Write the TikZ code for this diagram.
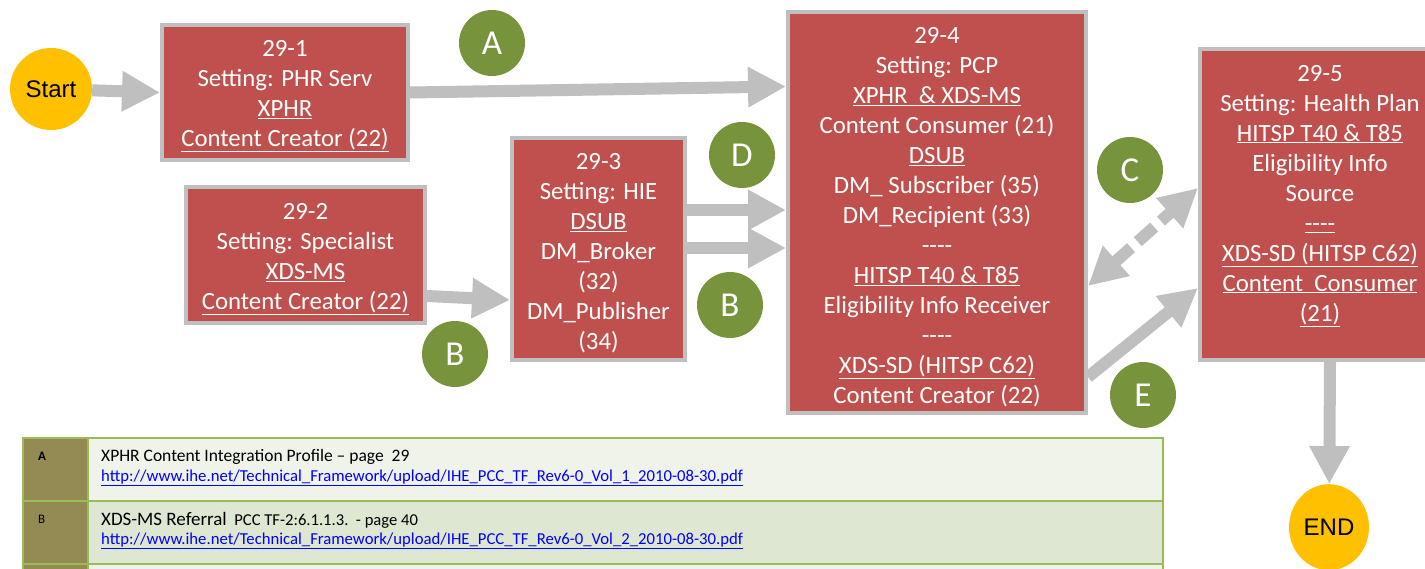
\documentclass[tikz,border=0pt]{standalone}
\usepackage{fontspec}
\setmainfont{Carlito}
\newfontfamily\arialfont{Liberation Sans}
\usetikzlibrary{arrows.meta,positioning,shapes.geometric}

\definecolor{boxred}{HTML}{C0504D}
\definecolor{boxgray}{HTML}{BFBFBF}
\definecolor{tagGreen}{HTML}{77933C}
\definecolor{gold}{HTML}{FFC000}
\definecolor{olive}{HTML}{948A54}
\definecolor{rowlight}{HTML}{EFF3EA}
\definecolor{rowdark}{HTML}{DEE7D1}
\definecolor{gridgreen}{HTML}{9BBB59}
\definecolor{linkblue}{HTML}{0000FF}

\tikzset{
  setting/.style={draw=boxgray, line width=4pt, fill=boxred, text=white,
    align=center, inner sep=0pt, font=\fontsize{24.8}{30}\selectfont},
  tag/.style={circle, fill=tagGreen, text=white, minimum size=66pt,
    inner sep=0pt, font=\fontsize{35}{35}\selectfont},
  terminal/.style={ellipse, fill=gold, inner sep=0pt,
    font=\arialfont\fontsize{24}{24}\selectfont},
  flow/.style={draw=boxgray, line width=12pt,
    -{Triangle[length=38pt,width=38pt]}},
  flowboth/.style={flow, {Triangle[length=38pt,width=38pt]}-{Triangle[length=38pt,width=38pt]},
    dash pattern=on 22pt off 9pt},
  cell/.style={draw=gridgreen, line width=2pt, anchor=north west, inner sep=0pt},
  note/.style={anchor=base west, inner sep=0pt},
}
\newcommand{\weblink}[1]{\textcolor{linkblue}{\underline{#1}}}
\newcommand{\dashes}{-{}-{}-{}-}
\newcommand{\toppad}[1]{\rule{0pt}{#1}}

\begin{document}
\begin{tikzpicture}[x=1pt, y=-1pt]
  \useasboundingbox (0,0) rectangle (1425,568);

  % Define nodes
  \node[terminal, minimum width=82pt, minimum height=82pt] (start) at (51,89) {Start};
  \node[setting, minimum width=246pt, minimum height=135pt] (p1) at (285,92.5)
    {\toppad{24pt}29-1\\Setting: PHR Serv\\\underline{XPHR}\\\underline{Content Creator (22)}};
  \node[setting, minimum width=239pt, minimum height=136pt] (p2) at (305.5,255)
    {\toppad{24pt}29-2\\Setting: Specialist\\\underline{XDS-MS}\\\underline{Content Creator (22)}};
  \node[setting, minimum width=173pt, minimum height=222pt] (p3) at (598.5,249)
    {\toppad{24pt}29-3\\Setting: HIE\\\underline{DSUB}\\DM\_Broker\\(32)\\DM\_Publisher\\(34)};
  \node[setting, minimum width=298pt, minimum height=401pt] (p4) at (937,212.5)
    {\toppad{26pt}29-4\\Setting: PCP\\\underline{XPHR \ \& XDS-MS}\\Content Consumer (21)\\\underline{DSUB}\\
     DM\_ Subscriber (35)\\DM\_Recipient (33)\\\dashes\\\underline{HITSP T40 \& T85}\\
     Eligibility Info Receiver\\\dashes\\\underline{XDS-SD (HITSP C62)}\\Content Creator (22)};
  \node[setting, minimum width=240pt, minimum height=311pt] (p5) at (1320,204.5)
    {29-5\\Setting: Health Plan\\\underline{HITSP T40 \& T85}\\Eligibility Info\\Source\\
     \underline{\dashes}\\\underline{XDS-SD (HITSP C62)}\\\underline{Content \ Consumer}\\
     \underline{(21)}\\[-7pt]\mbox{}};
  \node[terminal, minimum width=80pt, minimum height=86pt, below=122pt of p5, xshift=9pt] (stop) {END};

  \node[tag] (tagA) at (492,43) {A};
  \node[tag] (tagD) at (742,155) {D};
  \node[tag] (tagB2) at (730,305) {B};
  \node[tag] (tagB1) at (455,354) {B};
  \node[tag] (tagC) at (1130,170) {C};
  \node[tag] (tagE) at (1143,395) {E};

  % Connect the nodes
  \draw[flow] (start) -- (p1.west);
  \draw[flow] (p1.east) -- ([yshift=126pt]p4.west);
  \draw[flow] ([yshift=-41pt]p2.east) -- ([yshift=-51pt]p3.west);
  \draw[flow] ([yshift=39pt]p3.east) -- ([yshift=39pt]p3.east -| p4.west);
  \draw[flow] ([yshift=1pt]p3.east) -- ([yshift=1pt]p3.east -| p4.west);
  \draw[flowboth] ([yshift=-73.5pt]p4.east) -- ([yshift=16.5pt]p5.west);
  \draw[flow] ([yshift=-164.5pt]p4.east) -- ([yshift=-83.5pt]p5.west);
  \draw[flow] ([xshift=10pt]p5.south) -- (stop);

  % Reference table
  \node[cell, fill=olive, minimum width=65pt, minimum height=63pt] (keyA) at (22,437) {};
  \node[cell, fill=rowlight, minimum width=1075pt, minimum height=63pt] (rowA) at (87,437) {};
  \node[cell, fill=olive, minimum width=65pt, minimum height=63pt] (keyB) at (22,500) {};
  \node[cell, fill=rowdark, minimum width=1075pt, minimum height=63pt] (rowB) at (87,500) {};
  \node[cell, fill=olive, minimum width=65pt, minimum height=30pt] (keyC) at (22,563) {};
  \node[cell, fill=rowlight, minimum width=1075pt, minimum height=30pt] (rowC) at (87,563) {};

  \node[note, font=\fontsize{13}{13}\selectfont\bfseries] (labA) at (38,460) {A};
  \node[note, font=\fontsize{17.5}{18}\selectfont] (textA) at (101,461)
    {XPHR Content Integration Profile -- page\ \ 29};
  \node[note, font=\fontsize{16.7}{17}\selectfont] (linkA) at (101,481)
    {\weblink{http://www.ihe.net/Technical\_Framework/upload/IHE\_PCC\_TF\_Rev6-0\_Vol\_1\_2010-08-30.pdf}};
  \node[note, font=\fontsize{13}{13}\selectfont] (labB) at (38,523) {B};
  \node[note, font=\fontsize{16.6}{17}\selectfont] (textB) at (101,525)
    {{\fontsize{19}{19}\selectfont XDS-MS Referral}\ \ PCC TF-2:6.1.1.3.\ \ - page 40};
  \node[note, font=\fontsize{16.7}{17}\selectfont] (linkB) at (101,544)
    {\weblink{http://www.ihe.net/Technical\_Framework/upload/IHE\_PCC\_TF\_Rev6-0\_Vol\_2\_2010-08-30.pdf}};
\end{tikzpicture}
\end{document}
